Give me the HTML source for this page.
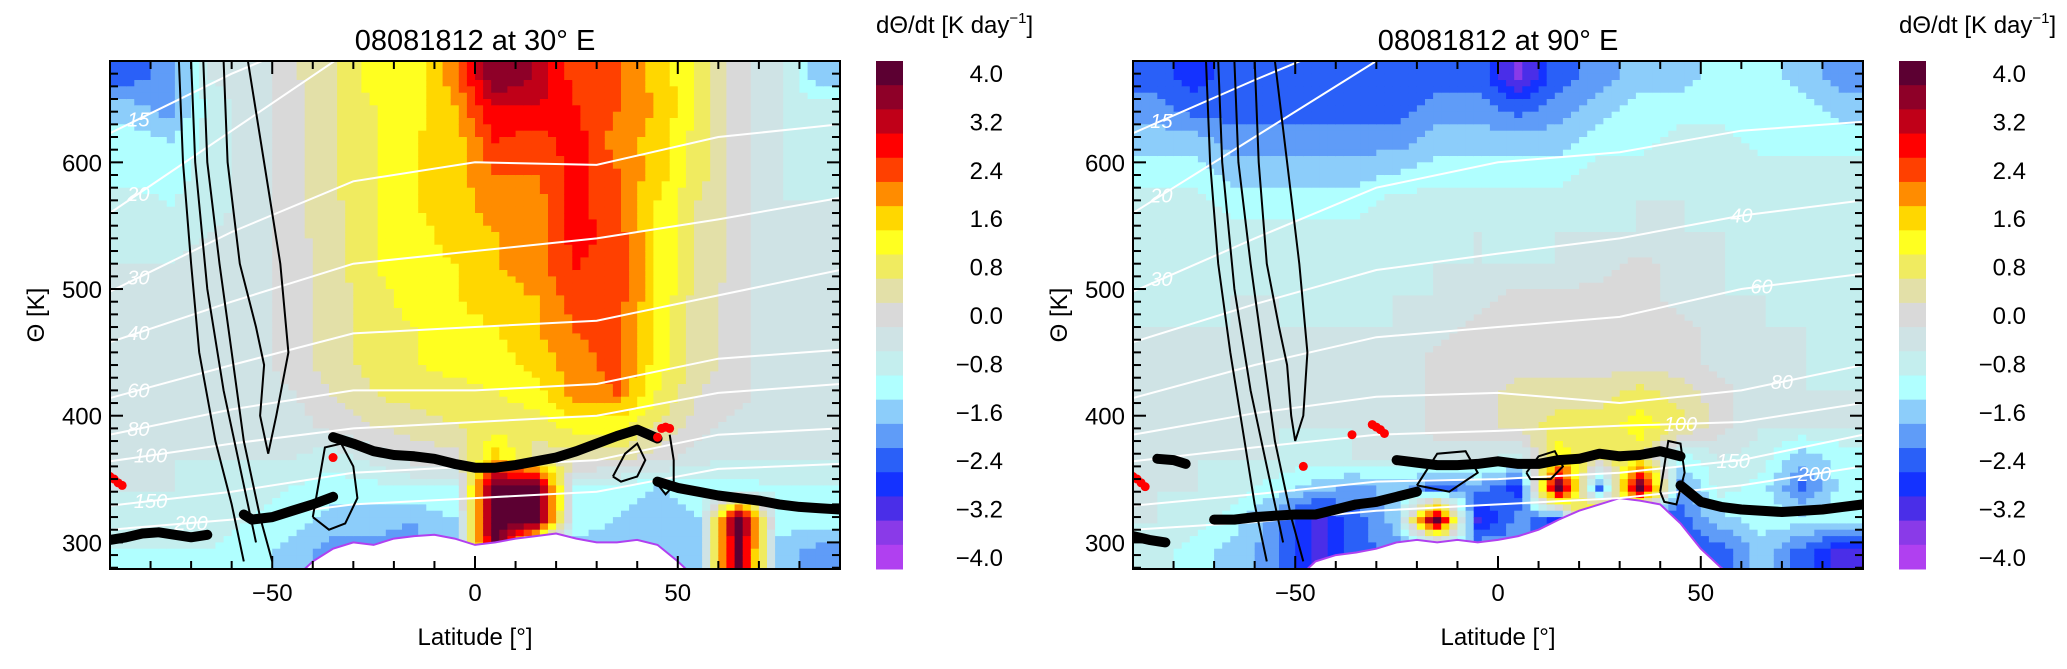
<!DOCTYPE html>
<html><head><meta charset="utf-8">
<style>
body{margin:0;background:#fff;}
svg{display:block;font-family:"Liberation Sans",sans-serif;}
</style></head>
<body>
<svg id="fig" width="2067" height="669" viewBox="0 0 2067 669" xmlns="http://www.w3.org/2000/svg"></svg>
<script>
// ---------- DATA ----------
const colLats = [-85,-75,-65,-55,-45,-35,-25,-15,-5,5,15,25,35,45,55,65,75,85];
const rowThetas = [667.5,642.5,617.5,592.5,567.5,542.5,517.5,492.5,467.5,442.5,417.5,392.5,367.5,342.5,317.5,292.5];
const heatL = [
[-2.4,-2.0,-0.6,-0.4,0.1,0.6,1.2,1.2,2.0,3.8,3.4,2.4,2.2,1.6,1.0,0.0,-0.6,-1.6],
[-1.6,-2.0,-0.8,-0.4,0.0,0.6,1.0,1.2,1.8,3.0,3.0,2.6,2.2,1.8,1.0,0.0,-0.6,-0.8],
[-1.2,-1.4,-0.8,-0.4,0.0,0.6,1.0,1.4,1.6,2.6,2.4,2.8,2.0,1.6,0.8,0.0,-0.6,-0.8],
[-1.2,-1.2,-0.8,-0.4,0.0,0.6,1.0,1.4,1.6,2.2,2.2,2.8,2.2,1.6,0.8,0.0,-0.6,-0.8],
[-0.8,-1.0,-0.8,-0.4,0.0,0.5,1.0,1.4,1.6,2.0,2.0,2.8,2.2,1.4,0.6,0.0,-0.6,-0.6],
[-0.8,-0.8,-0.6,-0.4,0.0,0.5,1.0,1.2,1.6,1.8,2.0,2.8,2.4,1.4,0.6,0.0,-0.6,-0.6],
[-0.6,-0.6,-0.4,-0.4,0.0,0.4,1.0,1.2,1.4,1.8,2.0,2.6,2.4,1.4,0.6,0.0,-0.6,-0.6],
[-0.6,-0.6,-0.4,-0.4,0.0,0.4,0.8,1.2,1.4,1.6,1.8,2.4,2.4,1.4,0.4,0.0,-0.6,-0.6],
[-0.6,-0.4,-0.4,-0.4,0.0,0.4,0.8,1.0,1.2,1.4,1.8,2.2,2.4,1.2,0.4,0.0,-0.6,-0.6],
[-0.4,-0.4,-0.4,-0.4,0.0,0.4,0.8,1.0,1.2,1.2,1.6,2.0,2.4,1.2,0.4,0.0,-0.6,-0.6],
[-0.4,-0.4,-0.4,-0.4,-0.2,0.2,0.6,0.8,0.8,1.0,1.2,2.0,2.2,1.0,0.2,0.0,-0.6,-0.6],
[-0.6,-0.6,-0.6,-0.6,-0.4,0.0,0.2,0.4,0.6,0.8,0.8,1.2,1.2,0.6,0.0,-0.4,-0.6,-0.6],
[-0.6,-0.6,-0.6,-0.6,-0.6,-0.8,-0.4,0.0,0.0,1.6,0.4,0.4,0.4,0.0,-0.4,-0.6,-0.6,-0.6],
[-0.6,-0.6,-0.8,-0.8,-1.0,-1.2,-1.2,-1.0,-1.0,4.2,4.2,-1.0,-1.2,-1.4,-1.2,-1.2,-1.0,-1.0],
[-0.8,-0.8,-0.8,-1.0,-1.2,-1.6,-1.6,-1.8,-1.4,4.2,4.2,-1.2,-1.4,-1.6,-1.4,4.2,-1.2,-1.2],
[-1.0,-1.0,-1.0,-1.2,-1.6,-2.0,-2.0,-2.0,-1.6,4.0,-1.6,-1.6,-1.6,-1.6,-1.4,4.0,-1.6,-2.0]];
const heatR = [
[-2.4,-2.8,-2.4,-2.4,-2.4,-2.4,-2.4,-2.4,-2.4,-3.4,-2.4,-2.0,-1.6,-1.6,-1.2,-1.2,-1.6,-2.0],
[-2.0,-2.4,-2.4,-2.4,-2.4,-2.4,-2.4,-2.0,-2.0,-2.4,-2.0,-1.6,-1.2,-1.2,-1.2,-1.2,-1.2,-1.6],
[-1.6,-1.6,-2.0,-2.0,-2.0,-2.0,-2.0,-1.6,-1.6,-1.6,-1.6,-1.2,-1.2,-0.8,-0.8,-1.2,-1.2,-1.2],
[-1.2,-1.2,-1.6,-1.6,-1.6,-1.6,-1.4,-1.2,-1.2,-1.2,-1.2,-0.8,-0.8,-0.8,-0.8,-0.8,-0.8,-0.8],
[-0.8,-0.8,-1.2,-1.2,-1.2,-1.2,-0.8,-0.8,-0.8,-0.8,-0.8,-0.8,-0.6,-0.6,-0.8,-0.8,-0.8,-0.8],
[-0.8,-0.8,-0.8,-0.8,-0.8,-0.8,-0.8,-0.8,-0.6,-0.8,-0.6,-0.6,-0.6,-0.6,-0.6,-0.8,-0.8,-0.8],
[-0.8,-0.8,-0.8,-0.8,-0.8,-0.8,-0.8,-0.6,-0.6,-0.6,-0.6,-0.4,0.0,-0.4,-0.6,-0.8,-0.8,-0.8],
[-0.8,-0.8,-0.6,-0.6,-0.8,-0.8,-0.6,-0.6,-0.4,0.0,0.0,0.0,0.0,-0.4,-0.6,-0.6,-0.8,-0.8],
[-0.6,-0.6,-0.6,-0.6,-0.6,-0.6,-0.6,-0.4,0.0,0.0,0.0,0.0,0.0,0.0,-0.4,-0.6,-0.6,-0.8],
[-0.6,-0.6,-0.6,-0.6,-0.6,-0.6,-0.6,0.0,0.0,0.0,0.0,0.0,0.0,0.0,-0.4,-0.6,-0.6,-0.8],
[-0.6,-0.6,-0.6,-0.6,-0.6,-0.6,-0.6,0.0,0.0,0.4,0.4,0.4,0.8,0.4,0.0,-0.6,-0.6,-0.6],
[-0.6,-0.6,-0.6,-0.6,-0.6,-0.6,-0.6,0.0,0.0,0.4,0.8,0.8,1.2,0.8,0.0,-0.6,-0.6,-0.6],
[-0.6,-0.6,-0.6,-0.6,-0.8,-0.6,-0.6,-0.4,-0.4,-0.8,1.2,0.8,0.8,-1.2,-0.6,-0.8,-1.6,-1.2],
[-0.6,-0.6,-0.8,-1.2,-1.6,-2.0,-1.6,-2.4,-2.0,-2.8,4.2,-2.4,4.2,-2.0,-0.8,-1.2,-2.4,-1.2],
[-0.6,-0.8,-1.2,-2.0,-3.2,-2.4,-1.6,4.2,-3.2,-2.0,-2.8,4.2,-3.2,-2.4,-1.6,-1.2,-1.2,-1.2],
[-0.8,-1.2,-1.6,-2.0,-3.2,-2.4,-2.0,-2.8,-1.6,-2.0,-2.4,-2.4,-2.4,-2.8,-2.4,-1.6,-2.4,-3.2]];
const surfLats = [-90,-85,-80,-75,-70,-65,-60,-55,-50,-45,-40,-35,-30,-25,-20,-15,-10,-5,0,5,10,15,20,25,30,35,40,45,50,55,60,65,70,75,80,85,90];
const surfL = [270,270,270,270,270,270,270,270,270,270,285,295,300,298,303,305,306,303,298,300,303,305,307,303,300,300,302,298,285,270,270,270,270,270,270,270,270];
const surfR = [270,270,270,270,270,270,270,270,270,285,290,292,295,300,302,300,302,300,302,305,310,318,325,330,335,333,330,315,295,280,270,270,270,270,270,270,270];
const isoLats = [-90,-60,-30,0,30,60,90];
const isoLevels = ["15","20","30","40","60","80","100","150","200"];
const isoL = [[623,670,710,720,720,720,720],[560,625,690,700,700,700,700],[498,545,585,600,598,620,630],[458,490,520,530,540,555,572],[414,440,465,470,475,495,515],[385,405,420,420,425,445,452],[364,378,390,395,400,418,425],[329,340,355,360,365,385,390],[310,318,330,335,340,358,362]];
const isoR = [[623,665,705,720,720,720,720],[560,620,680,700,700,700,700],[498,540,580,600,608,625,632],[458,488,515,528,540,558,570],[414,440,462,470,478,500,512],[385,402,415,418,410,420,440],[364,375,385,388,392,395,410],[329,338,348,350,355,365,385],[310,316,325,330,335,345,360]];
const isoLabelLatL = [-83,-83,-83,-83,-83,-83,-80,-80,-70];
const isoLabelLatR = [-83,-83,-83,60,65,70,45,58,78];
const tropL = [
 {lat:[-90,-86,-82,-78,-74,-70,-66],th:[302,304,307,308,306,304,306]},
 {lat:[-57,-55,-50,-45,-40,-35],th:[322,318,320,325,330,336]},
 {lat:[-35,-30,-25,-20,-15,-10,-5,0,5,10,15,20,25,30,35,40,45],th:[383,378,372,369,368,366,362,359,359,361,364,367,372,378,384,389,382]},
 {lat:[45,50,55,60,65,70,75,80,85,90],th:[348,343,340,337,335,333,330,328,327,326]}];
const tropR = [
 {lat:[-90,-86,-82],th:[305,302,300]},
 {lat:[-84,-80,-77],th:[366,365,362]},
 {lat:[-70,-65,-60,-55,-50,-45,-40,-35,-30,-25,-20],th:[318,318,320,321,322,322,326,330,332,336,340]},
 {lat:[-25,-20,-15,-10,-5,0,5,10,15,20,25,30,35,40,45],th:[365,363,361,361,362,364,362,362,365,366,370,368,369,372,368]},
 {lat:[45,50,55,60,65,70,75,80,85,90],th:[345,332,328,326,325,324,325,326,328,330]}];
const redL = {lat:[-90,-89,-88,-87,-35,45,46,47,48],th:[352,350,347,345,367,383,390,391,390]};
const redR = {lat:[-90,-89,-88,-87,-48,-36,-31,-30,-29,-28],th:[352,350,347,344,360,385,393,391,389,386]};
const jetL = [
 {lat:[-73,-72,-70,-68,-64,-60,-57],th:[680,600,520,450,380,330,285]},
 {lat:[-70,-69,-66,-62,-58,-54],th:[680,600,500,420,360,300]},
 {lat:[-67,-66,-63,-60,-57,-53,-50],th:[680,600,520,450,380,320,285]},
 {lat:[-62,-61,-58,-54,-52,-53,-51,-49,-46,-48,-52,-56],th:[680,600,520,470,440,400,370,400,450,520,600,680]},
 {lat:[-40,-37,-33,-30,-29,-32,-36,-40],th:[320,375,378,360,335,315,310,320]},
 {lat:[34,37,40,42,40,36,34],th:[352,370,378,365,352,348,352]},
 {lat:[48,49,49,47,44],th:[385,365,345,338,350]}];
const jetR = [
 {lat:[-72,-71,-69,-66,-63,-60,-57],th:[680,600,520,450,390,330,285]},
 {lat:[-69,-68,-65,-61,-57,-53],th:[680,600,500,420,360,300]},
 {lat:[-65,-64,-61,-58,-55,-51,-48],th:[680,600,520,450,380,320,285]},
 {lat:[-60,-59,-57,-54,-52,-51,-50,-48,-47,-49,-52,-55],th:[680,600,520,470,440,400,380,400,450,520,600,680]},
 {lat:[-20,-15,-8,-5,-12,-20],th:[345,370,372,355,340,345]},
 {lat:[7,10,14,16,13,8,7],th:[355,368,372,360,350,350,355]},
 {lat:[40,42,45,46,44,41,40],th:[340,380,378,355,330,332,340]}];
const cbTicks = ["4.0","3.2","2.4","1.6","0.8","0.0","\u22120.8","\u22121.6","\u22122.4","\u22123.2","\u22124.0"];
const xTicks = [-50,0,50];
const yTicks = [300,400,500,600];
const colors = ["#5c0032","#8e0028","#c00018","#ff0000","#ff4000","#ff8c00","#ffd700","#ffff20","#f0eb60","#e3e0a8","#d9d9d9","#cfe3e5","#c4eeee","#b0ffff","#8ccdfa","#5f9cf8","#2a60f8","#1432ff","#4a2ee8","#8a3ae8","#b040f0"];

// ---------- RENDER ----------
const NS="http://www.w3.org/2000/svg";
const svg=document.getElementById('fig');
function mk(tag,attrs,parent){const e=document.createElementNS(NS,tag);for(const k in attrs)e.setAttribute(k,attrs[k]);(parent||svg).appendChild(e);return e;}
const Y0=61,Y1=569,TH0=680,TH1=279;
function yS(th){return Y0+(TH0-th)/(TH0-TH1)*(Y1-Y0);}
function bandIdx(v){return Math.max(0,Math.min(20,Math.round((4.0-v)/0.4)));}
function interp(grid,lat,th){
  let fj=(lat-colLats[0])/10; fj=Math.max(0,Math.min(17,fj));
  let fi=(rowThetas[0]-th)/25; fi=Math.max(0,Math.min(15,fi));
  const j0=Math.floor(fj),i0=Math.floor(fi),j1=Math.min(17,j0+1),i1=Math.min(15,i0+1);
  const a=fj-j0,b=fi-i0;
  return (1-a)*(1-b)*grid[i0][j0]+a*(1-b)*grid[i0][j1]+(1-a)*b*grid[i1][j0]+a*b*grid[i1][j1];
}
function panel(px,grid,surf,iso,isoLab,trop,red,jet,title,id){
  const PX0=px,PX1=px+730;
  const xS=lat=>PX0+(lat+90)/180*(PX1-PX0);
  const g=mk('g',{});
  
  
  const clipId='clip'+id;
  const cp=mk('clipPath',{id:clipId},g);mk('rect',{x:PX0,y:Y0,width:PX1-PX0,height:Y1-Y0},cp);
  const hm=mk('g',{'clip-path':'url(#'+clipId+')'},g);
  
  
  for(let lat=-90;lat<90;lat+=2){
    for(let th=680;th>279;th-=5){
      const v=interp(grid,lat+1,th-2.5);
      const x0=xS(lat),x1=xS(lat+2),y0=yS(th),y1=yS(th-5);
      const r=mk('rect',{x:x0.toFixed(1),y:y0.toFixed(1),width:(x1-x0+0.6).toFixed(1),height:(y1-y0+0.6).toFixed(1),fill:colors[bandIdx(v)]},hm);
      
      
    }
  }
  let d='M'+xS(-90)+','+Y1;
  surfLats.forEach((la,i)=>{d+=' L'+xS(la).toFixed(1)+','+yS(surf[i]).toFixed(1);});
  d+=' L'+xS(90)+','+Y1+' Z';
  const ter=mk('path',{d:d,fill:'#fff',stroke:'#b040f0','stroke-width':2},hm);
  
  
  iso.forEach((arr,k)=>{
    const pts=isoLats.map((la,i)=>xS(la).toFixed(1)+','+yS(arr[i]).toFixed(1)).join(' ');
    const pl=mk('polyline',{points:pts,fill:'none',stroke:'#fff','stroke-width':2},hm);
    
    
    const la=isoLab[k];
    let t=arr[0];
    for(let i=0;i<isoLats.length-1;i++){if(la>=isoLats[i]&&la<=isoLats[i+1]){const f=(la-isoLats[i])/(isoLats[i+1]-isoLats[i]);t=arr[i]+f*(arr[i+1]-arr[i]);}}
    if(t<675&&t>285){
      const tx=mk('text',{x:xS(la),y:yS(t)+7,fill:'#fff','font-size':20,'font-style':'italic','text-anchor':'middle'},hm);
      tx.textContent=isoLevels[k];
      
      
    }
  });
  jet.forEach(c=>{
    const pts=c.lat.map((la,i)=>xS(la).toFixed(1)+','+yS(c.th[i]).toFixed(1)).join(' ');
    const pl=mk('polyline',{points:pts,fill:'none',stroke:'#000','stroke-width':2},hm);
    
    
  });
  trop.forEach(s=>{
    const pts=s.lat.map((la,i)=>xS(la).toFixed(1)+','+yS(s.th[i]).toFixed(1)).join(' ');
    const pl=mk('polyline',{points:pts,fill:'none',stroke:'#000','stroke-width':10,'stroke-linecap':'round','stroke-linejoin':'round'},hm);
    
    
  });
  red.lat.forEach((la,i)=>{
    const c=mk('circle',{cx:xS(la),cy:yS(red.th[i]),r:4.5,fill:'#ff0000'},hm);
    
    
  });
  const fr=mk('rect',{x:PX0,y:Y0,width:PX1-PX0,height:Y1-Y0,fill:'none',stroke:'#000','stroke-width':2},g);
  
  
  for(let la=-80;la<=80;la+=10){
    const L=(la%50===0)?13:8;
    mk('line',{x1:xS(la),x2:xS(la),y1:Y1,y2:Y1-L,stroke:'#000','stroke-width':2},g);
    mk('line',{x1:xS(la),x2:xS(la),y1:Y0,y2:Y0+L,stroke:'#000','stroke-width':2},g);
  }
  for(let th=280;th<=680;th+=10){
    const L=(th%100===0)?13:8;
    mk('line',{x1:PX0,x2:PX0+L,y1:yS(th),y2:yS(th),stroke:'#000','stroke-width':2},g);
    mk('line',{x1:PX1,x2:PX1-L,y1:yS(th),y2:yS(th),stroke:'#000','stroke-width':2},g);
  }
  xTicks.forEach(v=>{
    const t=mk('text',{x:xS(v),y:601,'font-size':24,'text-anchor':'middle'},g);
    t.textContent=v<0?'\u2212'+Math.abs(v):String(v);
    
    
  });
  yTicks.forEach(v=>{
    const t=mk('text',{x:PX0-8,y:yS(v)+9,'font-size':24,'text-anchor':'end'},g);
    t.textContent=String(v);
    
    
  });
  const xt=mk('text',{x:(PX0+PX1)/2,y:645,'font-size':24,'text-anchor':'middle'},g);
  xt.textContent='Latitude [\u00b0]';
  
  
  const yt=mk('text',{x:0,y:0,'font-size':24,'text-anchor':'middle',transform:'translate('+(PX0-66)+','+((Y0+Y1)/2)+') rotate(-90)'},g);
  yt.textContent='\u0398 [K]';
  
  
  const tt=mk('text',{x:(PX0+PX1)/2,y:50,'font-size':29,'text-anchor':'middle'},g);
  tt.textContent=title;
  
  
  const cx=PX1+36,cw=27,bh=(Y1-Y0)/21;
  const cb=mk('g',{},g);
  
  
  colors.forEach((c,i)=>{
    const r=mk('rect',{x:cx,y:Y0+i*bh,width:cw,height:bh+0.5,fill:c},cb);
    
    
  });
  cbTicks.forEach((s,k)=>{
    const t=mk('text',{x:cx+127,y:Y0+(2*k+0.5)*bh+9,'font-size':24,'text-anchor':'end'},cb);
    t.textContent=s;
    
    
  });
  const ct=mk('text',{x:cx,y:33,'font-size':24},cb);
  ct.innerHTML='d\u0398/dt [K day<tspan font-size="15" dy="-10">\u22121</tspan><tspan dy="10">]</tspan>';
  
  
}
panel(110,heatL,surfL,isoL,isoLabelLatL,tropL,redL,jetL,'08081812 at 30\u00b0 E','left');
panel(1133,heatR,surfR,isoR,isoLabelLatR,tropR,redR,jetR,'08081812 at 90\u00b0 E','right');
</script>
</body></html>
